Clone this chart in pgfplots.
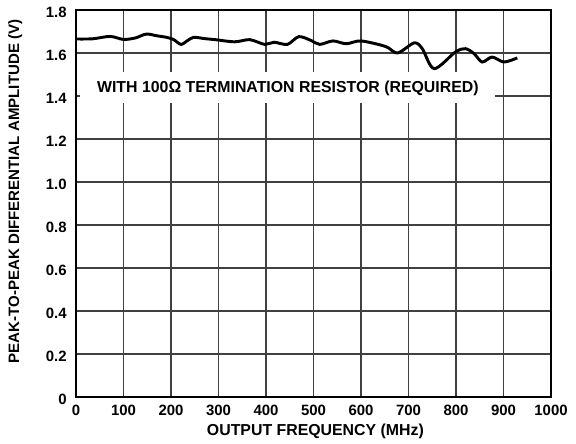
\documentclass[border=0pt]{standalone}
\usepackage{fontspec}
\setmainfont{Liberation Sans}
\usepackage{pgfplots}
\pgfplotsset{compat=1.18}
\begin{document}
\begin{tikzpicture}
\begin{axis}[
  scale only axis,
  width=356.25pt, height=290.25pt,
  xmin=0, xmax=1000, ymin=0, ymax=1.8,
  xtick={0,100,...,1000},
  ytick={0,0.2,0.4,0.6,0.8,1.0,1.2,1.4,1.6,1.8},
  yticklabels={0,0.2,0.4,0.6,0.8,1.0,1.2,1.4,1.6,1.8},
  /pgf/number format/assume math mode=true,
  /pgf/number format/1000 sep={},
  ticklabel style={font=\bfseries\fontsize{11.2}{13}\selectfont},
  major tick length=0pt,
  grid=major,
  major grid style={draw=black!75, line width=0.8pt},
  axis line style={line width=1.4pt},
  xlabel={OUTPUT FREQUENCY (MHz)},
  ylabel={PEAK-TO-PEAK DIFFERENTIAL AMPLITUDE (V)},
  xticklabel style={yshift=-2.3pt},
  yticklabel style={xshift=-3.5pt, yshift=-1.5pt},
  xlabel style={font=\bfseries\fontsize{11.9}{13}\selectfont, at={(axis description cs:0.504,-0.088)}, anchor=center},
  ylabel style={font=\bfseries\fontsize{11.3}{13}\selectfont, at={(axis description cs:-0.128,0.531)}, anchor=center},
  clip=false,
]
\path (rel axis cs:-0.16,-0.1214) rectangle (rel axis cs:1.0526,1.0258);
\fill[white] (axis cs:8,1.367) rectangle (axis cs:882,1.51);
\node[font=\bfseries\fontsize{11.9}{13}\selectfont] at (axis cs:446,1.437) {WITH 100Ω TERMINATION RESISTOR (REQUIRED)};
\addplot[black, line width=2.2pt, smooth, tension=0.5] coordinates {
(2,1.665) (35,1.666) (72,1.677) (100,1.663) (125,1.670) (148,1.688) (170,1.680)
(190,1.673) (205,1.663) (221,1.640) (235,1.658) (248,1.673) (270,1.667) (293,1.662)
(334,1.652) (366,1.662) (397,1.640) (417,1.650) (445,1.640) (469,1.676) (495,1.658)
(513,1.640) (541,1.656) (569,1.643) (600,1.656) (652,1.630) (677,1.600) (712,1.647)
(729,1.620) (754,1.527) (799,1.605) (820,1.620) (838,1.597) (855,1.558) (876,1.581)
(901,1.558) (929,1.577)
};
\end{axis}
\end{tikzpicture}
\end{document}
